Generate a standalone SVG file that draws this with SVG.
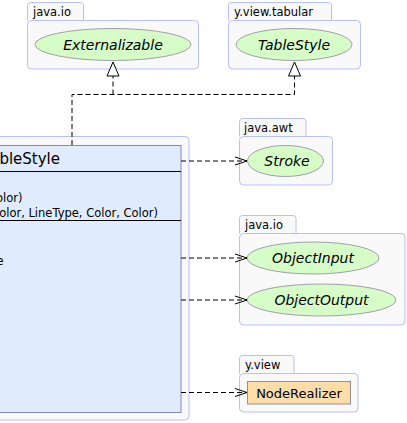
<svg xmlns="http://www.w3.org/2000/svg" width="407" height="423" viewBox="0 0 407 423">
<defs>
<style>
.pkg{fill:#f9f9f9;stroke:#b8c0f8;stroke-width:1}
.tab{font-family:"DejaVu Sans",sans-serif;font-size:11.5px;fill:#000}
.ell{fill:#d6fcc8;stroke:#a0a0a8;stroke-width:1}
.elt{font-family:"DejaVu Sans",sans-serif;font-size:14px;font-style:italic;fill:#000;text-anchor:middle}
.cls{fill:#e0ecfd;stroke:#8088c0;stroke-width:1}
.ct{font-family:"DejaVu Sans",sans-serif;fill:#000}
.dash{fill:none;stroke:#000;stroke-width:1;stroke-dasharray:5,3}
</style>
<marker id="open" viewBox="0 0 12 10" refX="12" refY="5" markerWidth="12" markerHeight="10" markerUnits="userSpaceOnUse" orient="auto">
<path d="M0,1 L12,5 L0,9" fill="none" stroke="#000" stroke-width="1"/>
</marker>
<marker id="tri" viewBox="0 0 16 14" refX="15" refY="7" markerWidth="16" markerHeight="14" markerUnits="userSpaceOnUse" orient="auto">
<path d="M1,1 L15,7 L1,13 Z" fill="#fff" stroke="#000" stroke-width="1"/>
</marker>
</defs>

<g id="pkg-class">
<rect class="pkg" x="-10" y="136.5" width="199" height="283.5" rx="4"/>
</g>
<g id="SimpleTableStyle">
<rect class="cls" x="-10" y="145.5" width="191" height="267"/>
<line x1="-10" y1="171.5" x2="181" y2="171.5" stroke="#000"/>
<line x1="-10" y1="220.5" x2="181" y2="220.5" stroke="#000"/>
<text class="ct" x="60" y="164" font-size="15" text-anchor="end">bleStyle</text>
<text class="ct" x="22.5" y="202" font-size="11.5" text-anchor="end">olor)</text>
<text class="ct" x="158" y="217" font-size="11.5" text-anchor="end">olor, LineType, Color, Color)</text>
<text class="ct" x="3.5" y="265" font-size="11.5" text-anchor="end">e</text>
</g>

<g id="pkg-java-io-1">
<path class="pkg" d="M27.5,20.5 V5.5 Q27.5,2.5 30.5,2.5 H80.5 Q83.5,2.5 83.5,5.5 V20.5"/>
<rect class="pkg" x="27.5" y="20.5" width="171" height="48.5" rx="4"/>
<text class="tab" x="33" y="16">java.io</text>
</g>
<g id="Externalizable">
<ellipse class="ell" cx="113" cy="44.5" rx="78" ry="16"/>
<text class="elt" x="113" y="49.5">Externalizable</text>
</g>

<g id="pkg-y-view-tabular">
<path class="pkg" d="M228.5,20.5 V5.5 Q228.5,2.5 231.5,2.5 H328.5 Q331.5,2.5 331.5,5.5 V20.5"/>
<rect class="pkg" x="228.5" y="20.5" width="132" height="48.5" rx="4"/>
<text class="tab" x="234" y="16">y.view.tabular</text>
</g>
<g id="TableStyle">
<ellipse class="ell" cx="294" cy="44.5" rx="58" ry="16"/>
<text class="elt" x="294" y="49.5">TableStyle</text>
</g>

<g id="pkg-java-awt">
<path class="pkg" d="M239.5,136.5 V121.5 Q239.5,118.5 242.5,118.5 H303 Q306,118.5 306,121.5 V136.5"/>
<rect class="pkg" x="239.5" y="136.5" width="93" height="48.5" rx="4"/>
<text class="tab" x="244" y="132">java.awt</text>
</g>
<g id="Stroke">
<ellipse class="ell" cx="285.5" cy="161" rx="38" ry="15.5"/>
<text class="elt" x="287" y="166">Stroke</text>
</g>

<g id="pkg-java-io-2">
<path class="pkg" d="M239.5,233.5 V218.5 Q239.5,215.5 242.5,215.5 H293 Q296,215.5 296,218.5 V233.5"/>
<rect class="pkg" x="239.5" y="233.5" width="165.5" height="91.5" rx="4"/>
<text class="tab" x="245" y="229">java.io</text>
</g>
<g id="ObjectInput">
<ellipse class="ell" cx="313" cy="258" rx="66" ry="16"/>
<text class="elt" x="313" y="263">ObjectInput</text>
</g>
<g id="ObjectOutput">
<ellipse class="ell" cx="321.5" cy="300" rx="74.5" ry="16"/>
<text class="elt" x="321.5" y="305">ObjectOutput</text>
</g>

<g id="pkg-y-view">
<path class="pkg" d="M239.5,373.5 V358.5 Q239.5,355.5 242.5,355.5 H291 Q294,355.5 294,358.5 V373.5"/>
<rect class="pkg" x="239.5" y="373.5" width="118.5" height="38.5" rx="4"/>
<text class="tab" x="245" y="369">y.view</text>
</g>
<g id="NodeRealizer">
<rect x="247.5" y="381.5" width="103" height="22.5" fill="#ffdca8" stroke="#9090a0"/>
<text class="ct" x="299" y="397.5" font-size="13" text-anchor="middle">NodeRealizer</text>
</g>

<g id="connectors">
<path class="dash" d="M72,145 V94.5 H294.5 V62" marker-end="url(#tri)"/>
<path class="dash" d="M113,94.5 V62" marker-end="url(#tri)"/>
<path class="dash" d="M181,161 H247" marker-end="url(#open)"/>
<path class="dash" d="M181,258 H247" marker-end="url(#open)"/>
<path class="dash" d="M181,300 H247" marker-end="url(#open)"/>
<path class="dash" d="M181,392.5 H247" marker-end="url(#open)"/>
</g>
</svg>
